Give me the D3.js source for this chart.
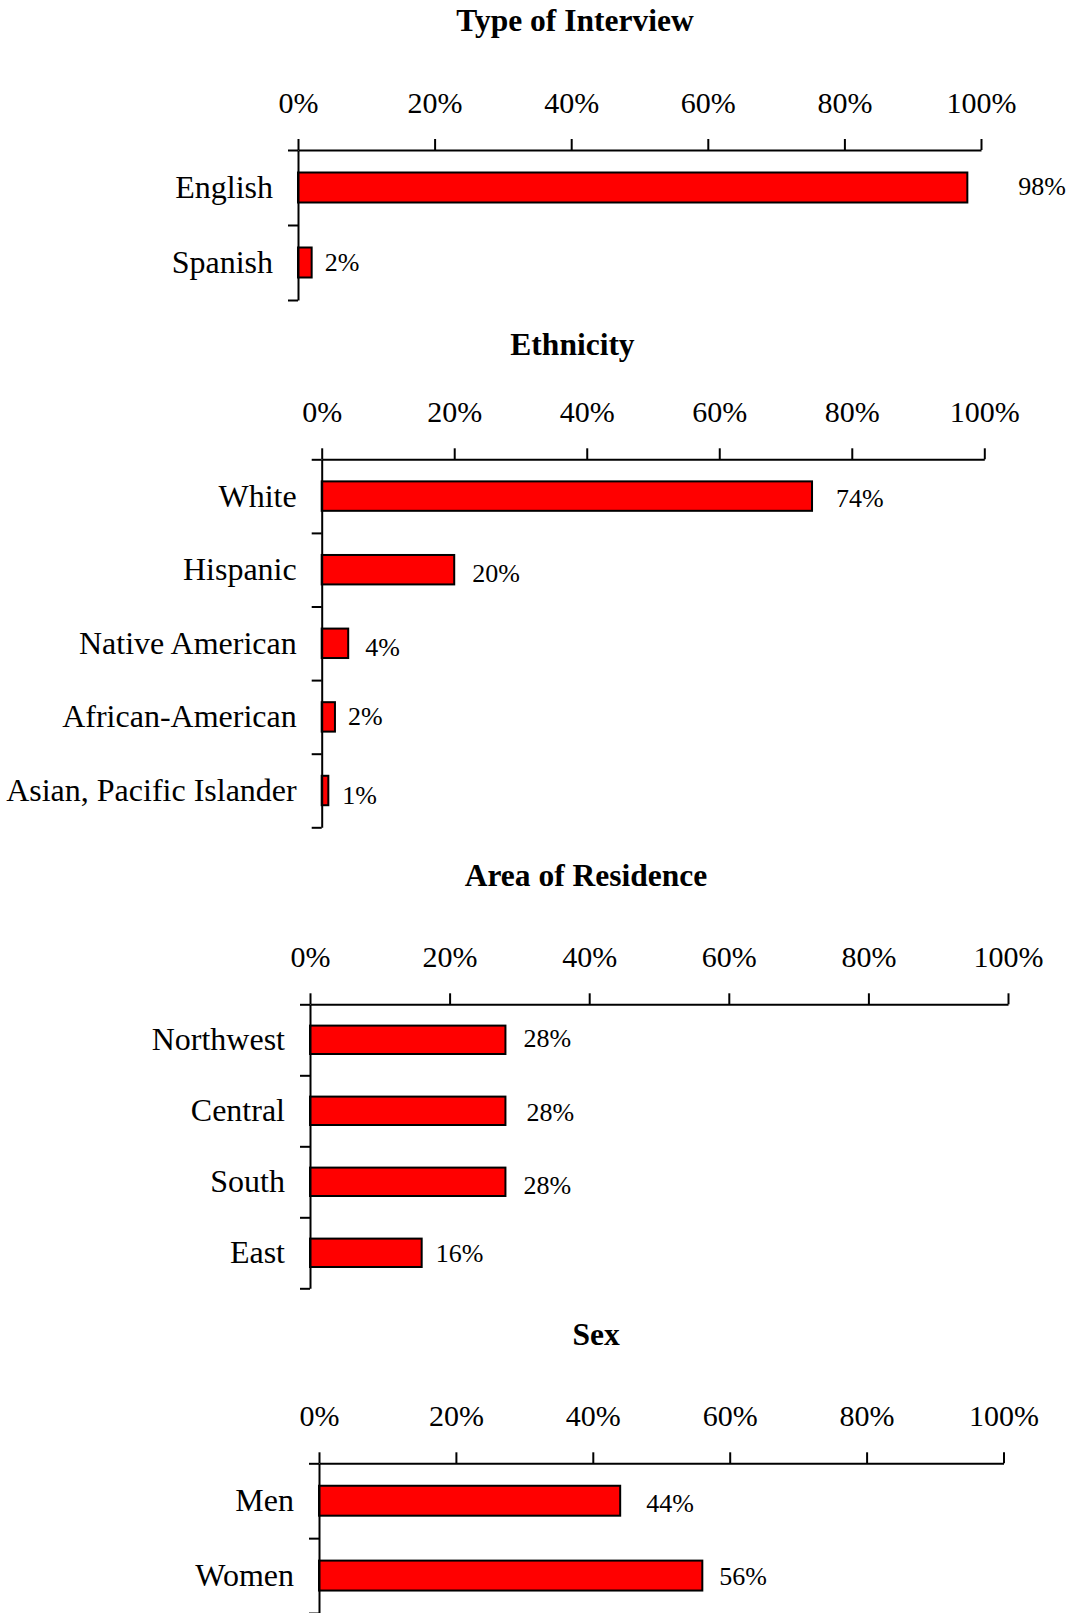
<!DOCTYPE html>
<html>
<head>
<meta charset="utf-8">
<script src="https://cdn.jsdelivr.net/npm/d3@7"></script>
<style>
  html, body { margin: 0; padding: 0; background: #fff; }
  svg { display: block; }
  text { font-family: "Liberation Serif", "Times New Roman", serif; fill: #000; }
</style>
</head>
<body>
<svg id="chart" width="1070" height="1613"></svg>
<script>
// ---- data ----
const interviewCategories = ["English", "Spanish"];
const interviewValues = [0.98, 0.02];

const ethnicityCategories = ["White", "Hispanic", "Native American", "African-American", "Asian, Pacific Islander"];
const ethnicityValues = [0.74, 0.20, 0.04, 0.02, 0.01];

const residenceCategories = ["Northwest", "Central", "South", "East"];
const residenceValues = [0.28, 0.28, 0.28, 0.16];

const sexCategories = ["Men", "Women"];
const sexValues = [0.44, 0.56];

const tickValues = [0, 0.2, 0.4, 0.6, 0.8, 1.0];

const panelTitles = ["Type of Interview", "Ethnicity", "Area of Residence", "Sex"];

// ---- layout (positions only; label nudges are [dx gap, dy] per bar) ----
const layouts = [
  { titleX: 575,   titleY: 31,   axisY: 150,    bottom: 300,    x0: 298,   x1: 981,
    nudge: [[51, -1], [13, 0]] },
  { titleX: 572.5, titleY: 355,  axisY: 459.3,  bottom: 827.3,  x0: 321.7, x1: 984.3,
    nudge: [[24, 2], [18, 3.5], [17, 4], [13, 0], [14, 4.5]] },
  { titleX: 586,   titleY: 886,  axisY: 1004.3, bottom: 1288.3, x0: 310,   x1: 1008,
    nudge: [[18, -1.5], [21, 1.5], [18, 3.5], [14, 0.5]] },
  { titleX: 596,   titleY: 1345, axisY: 1463.3, bottom: 1613,   x0: 319,   x1: 1003.5,
    nudge: [[26, 2.5], [17, 0.5]] }
];

const panels = [
  { title: panelTitles[0], cats: interviewCategories, vals: interviewValues },
  { title: panelTitles[1], cats: ethnicityCategories, vals: ethnicityValues },
  { title: panelTitles[2], cats: residenceCategories, vals: residenceValues },
  { title: panelTitles[3], cats: sexCategories, vals: sexValues }
];

const svg = d3.select("#chart");
const fmt = d3.format(".0%");
const serif = '"Liberation Serif", "Times New Roman", serif';

panels.forEach((p, i) => {
  const L = layouts[i];
  const g = svg.append("g");
  const n = p.cats.length;

  const x = d3.scaleLinear().domain([0, 1]).range([L.x0, L.x1]);
  const y = d3.scaleBand().domain(p.cats).range([L.axisY, L.bottom])
    .paddingInner(0.6).paddingOuter(0.3);
  const yIdx = d3.scaleLinear().domain([0, n]).range([L.axisY, L.bottom]);

  // title
  g.append("text")
    .attr("x", L.titleX).attr("y", L.titleY)
    .attr("text-anchor", "middle")
    .style("font-size", "31.5px").style("font-weight", "bold")
    .text(p.title);

  // bars
  g.selectAll("rect.bar").data(p.vals).join("rect")
    .attr("class", "bar")
    .attr("x", x(0))
    .attr("y", (d, j) => y(p.cats[j]))
    .attr("width", d => x(d) - x(0))
    .attr("height", y.bandwidth())
    .attr("fill", "#ff0000")
    .attr("stroke", "#000")
    .attr("stroke-width", 2);

  // value labels
  g.selectAll("text.val").data(p.vals).join("text")
    .attr("class", "val")
    .attr("x", (d, j) => x(d) + L.nudge[j][0])
    .attr("y", (d, j) => y(p.cats[j]) + y.bandwidth() / 2 + L.nudge[j][1])
    .attr("dy", "0.33em")
    .style("font-size", "26px")
    .text(d => fmt(d));

  // category labels
  g.selectAll("text.cat").data(p.cats).join("text")
    .attr("class", "cat")
    .attr("x", L.x0 - 25)
    .attr("y", d => y(d) + y.bandwidth() / 2)
    .attr("dy", "0.33em")
    .attr("text-anchor", "end")
    .style("font-size", "32px")
    .text(d => d);

  // x axis (top)
  const xAxis = g.append("g")
    .attr("transform", `translate(0,${L.axisY})`)
    .call(d3.axisTop(x).tickValues(tickValues).tickFormat(fmt)
      .tickSize(11).tickSizeOuter(0).tickPadding(26));
  xAxis.attr("font-family", null);
  xAxis.selectAll("text").style("font-size", "30px").attr("fill", "#000")
    .style("font-family", serif);
  xAxis.selectAll("path, line").attr("stroke", "#000").attr("stroke-width", 2);

  // y axis (left)
  const yAxis = g.append("g")
    .attr("transform", `translate(${L.x0},0)`)
    .call(d3.axisLeft(yIdx).tickValues(d3.range(0, n + 1)).tickFormat("")
      .tickSize(10).tickSizeOuter(0));
  yAxis.selectAll("path, line").attr("stroke", "#000").attr("stroke-width", 2);
});
</script>
</body>
</html>
